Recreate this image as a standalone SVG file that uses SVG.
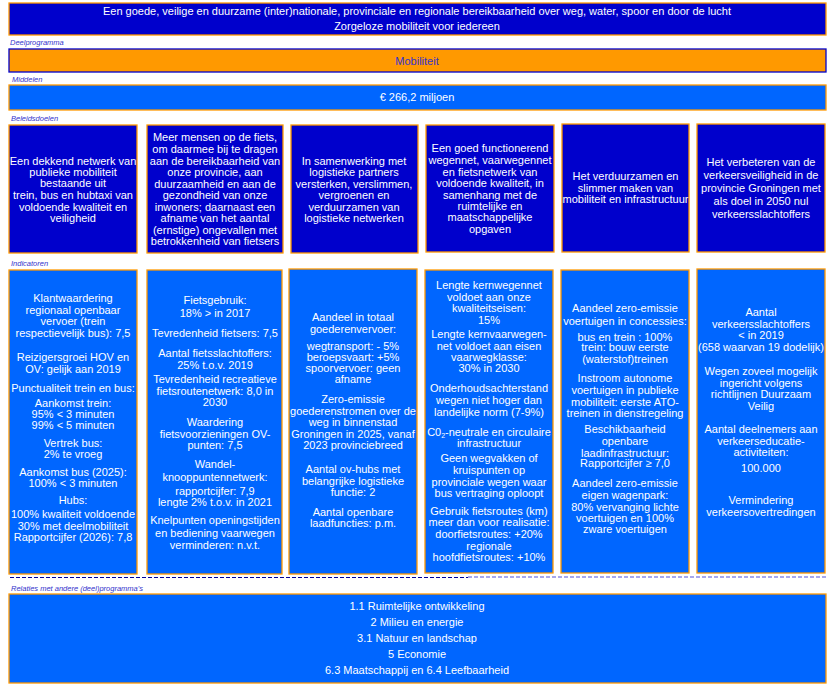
<svg xmlns="http://www.w3.org/2000/svg" width="829" height="684" viewBox="0 0 829 684">
<style>
text{font-family:"Liberation Sans",Arial,sans-serif;font-size:11px;fill:#fff;text-anchor:middle}
.lbl{font-size:7.5px;font-style:italic;fill:#3333cc;text-anchor:start}
.dk{fill:#0000cc;stroke:#ff9900;stroke-width:1.3}
.lt{fill:#0066ff;stroke:#ff9900;stroke-width:1.3}
.or{fill:#ff9900;stroke:#0000cc;stroke-width:1.3}
</style>
<rect width="829" height="684" fill="#fff"/>
<g id="top"><rect class="dk" x="9" y="3" width="817" height="32"/>
<text x="417" y="15">Een goede, veilige en duurzame (inter)nationale, provinciale en regionale bereikbaarheid over weg, water, spoor en door de lucht</text>
<text x="417" y="30">Zorgeloze mobiliteit voor iedereen</text></g>
<text class="lbl" x="10" y="45">Deelprogramma</text>
<g id="deelprogramma"><rect class="or" x="9" y="49" width="817" height="23"/>
<text x="417" y="65" style="fill:#3333cc">Mobiliteit</text></g>
<text class="lbl" x="12" y="82">Middelen</text>
<g id="middelen"><rect class="lt" x="9" y="85" width="817" height="25"/>
<text x="417" y="101">€ 266,2 miljoen</text></g>
<text class="lbl" x="11" y="121">Beleidsdoelen</text>
<g id="doel1"><rect class="dk" x="9" y="125" width="128" height="128"/>
<text x="73"><tspan x="73" y="164.5">Een dekkend netwerk van</tspan><tspan x="73" y="176">publieke mobiliteit</tspan><tspan x="73" y="187.3">bestaande uit</tspan><tspan x="73" y="199">trein, bus en hubtaxi van</tspan><tspan x="73" y="210.5">voldoende kwaliteit en</tspan><tspan x="73" y="222">veiligheid</tspan></text></g>
<g id="doel2"><rect class="dk" x="147" y="125" width="136" height="128"/>
<text x="215"><tspan x="215" y="141.3">Meer mensen op de fiets,</tspan><tspan x="215" y="153">om daarmee bij te dragen</tspan><tspan x="215" y="164.5">aan de bereikbaarheid van</tspan><tspan x="215" y="176">onze provincie, aan</tspan><tspan x="215" y="187.5">duurzaamheid en aan de</tspan><tspan x="215" y="199">gezondheid van onze</tspan><tspan x="215" y="210.5">inwoners; daarnaast een</tspan><tspan x="215" y="222">afname van het aantal</tspan><tspan x="215" y="233.5">(ernstige) ongevallen met</tspan><tspan x="215" y="245">betrokkenheid van fietsers</tspan></text></g>
<g id="doel3"><rect class="dk" x="291" y="125" width="127" height="128"/>
<text x="354"><tspan x="354" y="164.5">In samenwerking met</tspan><tspan x="354" y="176">logistieke partners</tspan><tspan x="354" y="187.5">versterken, verslimmen,</tspan><tspan x="354" y="199">vergroenen en</tspan><tspan x="354" y="210.5">verduurzamen van</tspan><tspan x="354" y="222">logistieke netwerken</tspan></text></g>
<g id="doel4"><rect class="dk" x="426" y="125" width="128" height="127"/>
<text x="490"><tspan x="490" y="152.3">Een goed functionerend</tspan><tspan x="490" y="164">wegennet, vaarwegennet</tspan><tspan x="490" y="175.6">en fietsnetwerk van</tspan><tspan x="490" y="187.2">voldoende kwaliteit, in</tspan><tspan x="490" y="198.5">samenhang met de</tspan><tspan x="490" y="209.8">ruimtelijke en</tspan><tspan x="490" y="221.2">maatschappelijke</tspan><tspan x="490" y="233">opgaven</tspan></text></g>
<g id="doel5"><rect class="dk" x="562" y="124" width="127" height="128"/>
<text x="625.5"><tspan x="625.5" y="180">Het verduurzamen en</tspan><tspan x="625.5" y="191.7">slimmer maken van</tspan><tspan x="625.5" y="203">mobiliteit en infrastructuur</tspan></text></g>
<g id="doel6"><rect class="dk" x="697" y="124" width="128" height="128"/>
<text x="761"><tspan x="761" y="166.3">Het verbeteren van de</tspan><tspan x="761" y="179.3">verkeersveiligheid in de</tspan><tspan x="761" y="192.2">provincie Groningen met</tspan><tspan x="761" y="205">als doel in 2050 nul</tspan><tspan x="761" y="218">verkeersslachtoffers</tspan></text></g>
<text class="lbl" x="11" y="266">Indicatoren</text>
<g id="ind1"><rect class="lt" x="9" y="270" width="128" height="304"/>
<text x="73"><tspan x="73" y="301.7">Klantwaardering</tspan><tspan x="73" y="314">regionaal openbaar</tspan><tspan x="73" y="325.3">vervoer (trein</tspan><tspan x="73" y="337.3">respectievelijk bus): 7,5</tspan><tspan x="73" y="361">Reizigersgroei HOV en</tspan><tspan x="73" y="372.5">OV: gelijk aan 2019</tspan><tspan x="73" y="392.3">Punctualiteit trein en bus:</tspan><tspan x="73" y="406.7">Aankomst trein:</tspan><tspan x="73" y="418">95% &lt; 3 minuten</tspan><tspan x="73" y="428.7">99% &lt; 5 minuten</tspan><tspan x="73" y="447.3">Vertrek bus:</tspan><tspan x="73" y="458.3">2% te vroeg</tspan><tspan x="73" y="475.7">Aankomst bus (2025):</tspan><tspan x="73" y="486.7">100% &lt; 3 minuten</tspan><tspan x="73" y="504">Hubs:</tspan><tspan x="73" y="518.3">100% kwaliteit voldoende</tspan><tspan x="73" y="530">30% met deelmobiliteit</tspan><tspan x="73" y="540.7">Rapportcijfer (2026): 7,8</tspan></text></g>
<g id="ind2"><rect class="lt" x="147" y="270" width="135" height="304"/>
<text x="215"><tspan x="215" y="304">Fietsgebruik:</tspan><tspan x="215" y="317.3">18% &gt; in 2017</tspan><tspan x="215" y="336.7">Tevredenheid fietsers: 7,5</tspan><tspan x="215" y="357.3">Aantal fietsslachtoffers:</tspan><tspan x="215" y="369">25% t.o.v. 2019</tspan><tspan x="215" y="383">Tevredenheid recreatieve</tspan><tspan x="215" y="395">fietsroutenetwerk: 8,0 in</tspan><tspan x="215" y="406">2030</tspan><tspan x="215" y="426.3">Waardering</tspan><tspan x="215" y="438">fietsvoorzieningen OV-</tspan><tspan x="215" y="449">punten: 7,5</tspan><tspan x="215" y="468">Wandel-</tspan><tspan x="215" y="481.3">knooppuntennetwerk:</tspan><tspan x="215" y="495">rapportcijfer: 7,9</tspan><tspan x="215" y="505.7">lengte 2% t.o.v. in 2021</tspan><tspan x="215" y="524">Knelpunten openingstijden</tspan><tspan x="215" y="536.7">en bediening vaarwegen</tspan><tspan x="215" y="549">verminderen: n.v.t.</tspan></text></g>
<g id="ind3"><rect class="lt" x="289" y="269" width="128" height="305"/>
<text x="353"><tspan x="353" y="321.3">Aandeel in totaal</tspan><tspan x="353" y="333.3">goederenvervoer:</tspan><tspan x="353" y="350">wegtransport: - 5%</tspan><tspan x="353" y="360.7">beroepsvaart: +5%</tspan><tspan x="353" y="372.3">spoorvervoer: geen</tspan><tspan x="353" y="383">afname</tspan><tspan x="353" y="403">Zero-emissie</tspan><tspan x="353" y="414.7">goederenstromen over de</tspan><tspan x="353" y="426.3">weg in binnenstad</tspan><tspan x="353" y="437.7">Groningen in 2025, vanaf</tspan><tspan x="353" y="449">2023 provinciebreed</tspan><tspan x="353" y="473.3">Aantal ov-hubs met</tspan><tspan x="353" y="484.7">belangrijke logistieke</tspan><tspan x="353" y="496.3">functie: 2</tspan><tspan x="353" y="516.3">Aantal openbare</tspan><tspan x="353" y="527.3">laadfuncties: p.m.</tspan></text></g>
<g id="ind4"><rect class="lt" x="425" y="270" width="128" height="303"/>
<text x="489"><tspan x="489" y="289.3">Lengte kernwegennet</tspan><tspan x="489" y="300.7">voldoet aan onze</tspan><tspan x="489" y="312.3">kwaliteitseisen:</tspan><tspan x="489" y="324">15%</tspan><tspan x="489" y="338">Lengte kernvaarwegen-</tspan><tspan x="489" y="349.7">net voldoet aan eisen</tspan><tspan x="489" y="360.7">vaarwegklasse:</tspan><tspan x="489" y="372.3">30% in 2030</tspan><tspan x="489" y="392.3">Onderhoudsachterstand</tspan><tspan x="489" y="404">wegen niet hoger dan</tspan><tspan x="489" y="415.7">landelijke norm (7-9%)</tspan></text>
<text x="489" y="435.5">C0<tspan font-size="7" dy="2">2</tspan><tspan dy="-2">-neutrale en circulaire</tspan></text>
<text x="489"><tspan x="489" y="446.5">infrastructuur</tspan><tspan x="489" y="462.3">Geen wegvakken of</tspan><tspan x="489" y="474">kruispunten op</tspan><tspan x="489" y="485.7">provinciale wegen waar</tspan><tspan x="489" y="497.3">bus vertraging oploopt</tspan><tspan x="489" y="514.7">Gebruik fietsroutes (km)</tspan><tspan x="489" y="526.3">meer dan voor realisatie:</tspan><tspan x="489" y="538">doorfietsroutes: +20%</tspan><tspan x="489" y="549.7">regionale</tspan><tspan x="489" y="560.7">hoofdfietsroutes: +10%</tspan></text></g>
<g id="ind5"><rect class="lt" x="561" y="270" width="128" height="303"/>
<text x="625"><tspan x="625" y="312.3">Aandeel zero-emissie</tspan><tspan x="625" y="324.7">voertuigen in concessies:</tspan><tspan x="625" y="340.7">bus en trein : 100%</tspan><tspan x="625" y="351.3">trein: bouw eerste</tspan><tspan x="625" y="363.3">(waterstof)treinen</tspan><tspan x="625" y="382.3">Instroom autonome</tspan><tspan x="625" y="394">voertuigen in publieke</tspan><tspan x="625" y="405.7">mobiliteit: eerste ATO-</tspan><tspan x="625" y="417.3">treinen in dienstregeling</tspan><tspan x="625" y="433.3">Beschikbaarheid</tspan><tspan x="625" y="444.7">openbare</tspan><tspan x="625" y="456.7">laadinfrastructuur:</tspan><tspan x="625" y="467.3">Rapportcijfer ≥ 7,0</tspan><tspan x="625" y="486.7">Aandeel zero-emissie</tspan><tspan x="625" y="499.3">eigen wagenpark:</tspan><tspan x="625" y="510.7">80% vervanging lichte</tspan><tspan x="625" y="522.3">voertuigen en 100%</tspan><tspan x="625" y="533.3">zware voertuigen</tspan></text></g>
<g id="ind6"><rect class="lt" x="697" y="269" width="128" height="304"/>
<text x="761"><tspan x="761" y="316.3">Aantal</tspan><tspan x="761" y="328">verkeersslachtoffers</tspan><tspan x="761" y="339">&lt; in 2019</tspan><tspan x="761" y="351.3">(658 waarvan 19 dodelijk)</tspan><tspan x="761" y="374.7">Wegen zoveel mogelijk</tspan><tspan x="761" y="386.7">ingericht volgens</tspan><tspan x="761" y="398">richtlijnen Duurzaam</tspan><tspan x="761" y="409.7">Veilig</tspan><tspan x="761" y="433.3">Aantal deelnemers aan</tspan><tspan x="761" y="445">verkeerseducatie-</tspan><tspan x="761" y="456.3">activiteiten:</tspan><tspan x="761" y="472.3">100.000</tspan><tspan x="761" y="504">Vermindering</tspan><tspan x="761" y="516">verkeersovertredingen</tspan></text></g>
<g id="connectors">
<line x1="10" y1="577.5" x2="468" y2="577.5" stroke="#000099" stroke-width="1" stroke-dasharray="4,2"/>
<line x1="468" y1="577" x2="826" y2="577" stroke="#8c8ce6" stroke-width="1.6" stroke-dasharray="4,2"/>
</g>
<text class="lbl" x="11" y="591">Relaties met andere (deel)programma's</text>
<g id="relaties"><rect class="lt" x="9" y="594" width="817" height="89"/>
<text x="417"><tspan x="417" y="610">1.1 Ruimtelijke ontwikkeling</tspan><tspan x="417" y="626">2 Milieu en energie</tspan><tspan x="417" y="642">3.1 Natuur en landschap</tspan><tspan x="417" y="658">5 Economie</tspan><tspan x="417" y="674">6.3 Maatschappij en 6.4 Leefbaarheid</tspan></text></g>
</svg>
